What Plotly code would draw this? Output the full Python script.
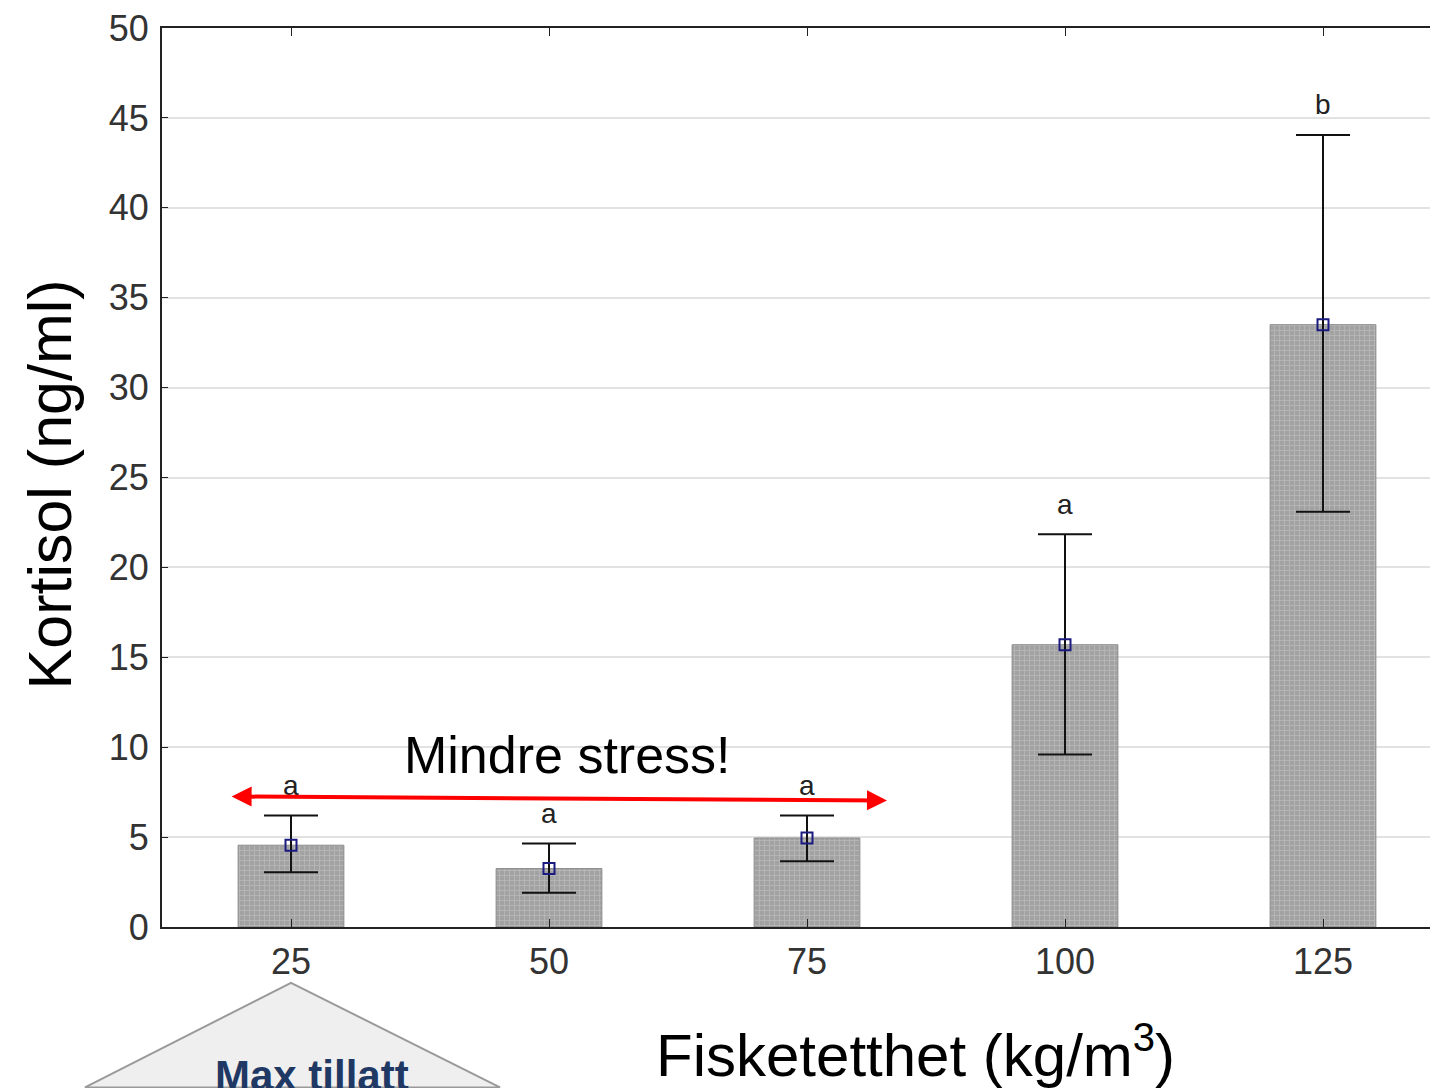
import plotly.graph_objects as go

categories = ["25", "50", "75", "100", "125"]
means = [4.55, 3.25, 4.95, 15.7, 33.5]
upper = [6.2, 4.65, 6.2, 21.85, 44.05]
lower = [3.05, 1.9, 3.65, 9.6, 23.1]
letters = ["a", "a", "a", "a", "b"]
y_ticks = [0, 5, 10, 15, 20, 25, 30, 35, 40, 45, 50]

err_plus = [u - m for u, m in zip(upper, means)]
err_minus = [m - l for m, l in zip(means, lower)]
xpos = list(range(len(categories)))

# page offset (body margin) compensation
OFF = 8
PL, PR, PT, PB = 162, 1452, 25, 927  # plot area in page pixels


def px(X):
    return (X - PL) / (PR - PL)


def py(Y):
    return (PB - Y) / (PB - PT)


FONT = "Liberation Sans, Arial"

fig = go.Figure()
fig.add_trace(go.Bar(
    x=xpos, y=means, width=0.41,
    marker=dict(color="#a2a2a2", line=dict(color="#8c8c8c", width=1),
                pattern=dict(shape="+", fgcolor="#cdcdcd", size=5, solidity=0.3)),
    showlegend=False,
))
fig.add_trace(go.Scatter(
    x=xpos, y=means, mode="markers",
    marker=dict(symbol="square-open", size=11, color="#1a1a80", line=dict(width=2, color="#1a1a80")),
    error_y=dict(type="data", symmetric=False, array=err_plus, arrayminus=err_minus,
                 color="#111111", thickness=2, width=27),
    showlegend=False,
))

for i, (u, lt) in enumerate(zip(upper, letters)):
    fig.add_annotation(x=i, y=u + 0.7, text=lt, showarrow=False, xref="x", yref="y",
                       yanchor="bottom", font=dict(family=FONT, size=28, color="#222"))

# red double arrow
fig.add_annotation(x=2.31, y=7.04, ax=-0.236, ay=7.26, axref="x", ayref="y", xref="x", yref="y",
                   text="", showarrow=True, arrowhead=2, arrowside="end+start", arrowsize=1,
                   arrowwidth=4, arrowcolor="#ff0000", startarrowhead=2, startarrowsize=1)
fig.add_annotation(x=1.07, y=9.55, xref="x", yref="y", text="Mindre stress!", showarrow=False,
                   font=dict(family=FONT, size=52, color="#000"))
# axis titles
fig.add_annotation(x=px(50), y=py(483), xref="paper", yref="paper", text="Kortisol (ng/ml)",
                   showarrow=False, textangle=-90, xanchor="center", yanchor="middle",
                   font=dict(family=FONT, size=61, color="#000"))
fig.add_annotation(x=px(915), y=py(1052), xref="paper", yref="paper",
                   text="Fisketetthet (kg/m<sup><span style='font-size:40px'>3</span></sup>)",
                   showarrow=False, xanchor="center", yanchor="middle",
                   font=dict(family=FONT, size=60, color="#000"))

# Max tillatt callout
fig.add_shape(type="path", xref="paper", yref="paper",
              path=f"M {px(85)} {py(1088)} L {px(291)} {py(983)} L {px(500)} {py(1088)} Z",
              fillcolor="#efefef", line=dict(color="#9a9a9a", width=2), layer="above")
fig.add_annotation(x=px(312), y=py(1050), xref="paper", yref="paper",
                   xanchor="center", yanchor="top", text="<b>Max tillatt</b>", showarrow=False,
                   font=dict(family=FONT, size=42, color="#1f3864"))

W = PR - OFF
fig.update_layout(
    width=W, height=1088,
    margin=dict(l=PL - OFF, r=0, t=PT - OFF, b=1088 - (PB - OFF)),
    plot_bgcolor="white", paper_bgcolor="white",
)
fig.update_xaxes(range=[-0.5, 4.5], tickvals=xpos, ticktext=categories,
                 showline=True, linecolor="#222", linewidth=2, mirror="ticks",
                 ticks="inside", ticklen=8, tickcolor="#222", showgrid=False, zeroline=False,
                 tickfont=dict(family=FONT, size=36, color="#333"),
                 ticklabelstandoff=2, ticklabeloverflow="allow")
fig.update_yaxes(range=[0, 50], tickvals=y_ticks, showline=True, linecolor="#222", linewidth=2,
                 ticks="inside", ticklen=6, tickcolor="#222", showgrid=True, gridcolor="#e2e2e2",
                 gridwidth=2, zeroline=False,
                 tickfont=dict(family=FONT, size=36, color="#333"),
                 ticklabelstandoff=4, ticklabeloverflow="allow")

fig.write_html("out.html")
